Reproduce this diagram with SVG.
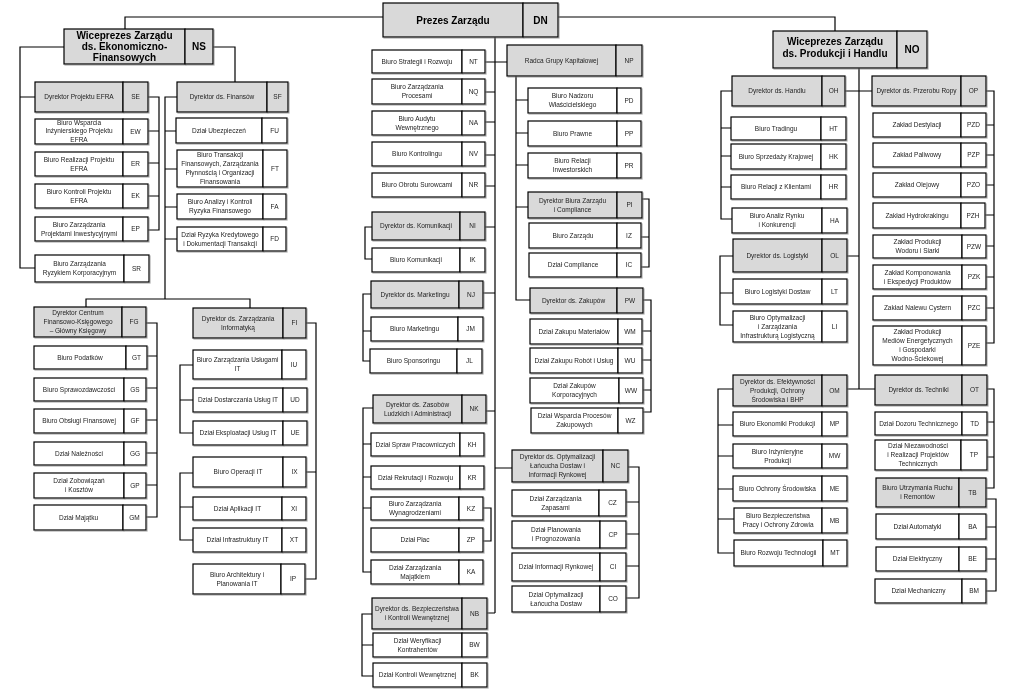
<svg xmlns="http://www.w3.org/2000/svg" width="1024" height="693" viewBox="0 0 1024 693">
<style>
.w{fill:#fff;stroke:#000;stroke-width:1.2}
.g{fill:#d9d9d9;stroke:#000;stroke-width:1.2}
text{font-family:"Liberation Sans",Arial,sans-serif;font-size:6.5px;fill:#222;text-anchor:middle}
.b{font-size:10px;font-weight:bold;fill:#000}
#conn path{fill:none;stroke:#000;stroke-width:1.2}
</style>
<defs><filter id="sh" x="-5%" y="-5%" width="115%" height="130%"><feDropShadow dx="1" dy="1" stdDeviation="0.4" flood-color="#777" flood-opacity="0.6"/></filter></defs>
<rect width="1024" height="693" fill="#fff"/>
<g id="conn">
<path d="M383,17H125V29M558,17H835V31"/>
<path d="M64,47H20V268H35M20,97H35M213,47H235V82"/>
<path d="M148,97H159V230H148M148,131H159M148,163H159M148,196H159"/>
<path d="M177,97H165V299M165,131H176M165,169H177M165,207H177M165,239H177M86,307V299H250V308"/>
<path d="M146,323H157V517H146M146,356H157M146,388H157M146,420H157M146,453H157M146,485H157"/>
<path d="M306,323H316V579H305M306,472H316M193,365H180V433H193M180,400H193M193,473H180V540H193M180,507H193"/>
<path d="M495,37V613M485,62H507M485,92H495M485,122H495M485,155H495M485,186H495M485,227H495M483,293H495M486,411H495M487,613H495M495,468H512"/>
<path d="M372,227H365V259H372M371,294H363V361H370M363,331H371"/>
<path d="M373,408H363V572H371M363,444H371M363,477H371M363,508H371M483,508H491V541H483M372,614H362V676H373M362,645H373"/>
<path d="M516,76V300H530M516,100H528M516,133H528M516,165H528M516,207H528"/>
<path d="M642,199H649V267H641M641,237H649M643,300H651V412H643M642,331H651M642,360H651M643,390H651"/>
<path d="M628,467H639V598H626M626,502H639M626,534H639M626,566H639"/>
<path d="M859,68V389M845,91H872M847,256H859M847,389H875"/>
<path d="M732,91H721V219H732M721,128H731M721,156H731M721,187H731M733,256H720V325H733M720,293H733"/>
<path d="M733,389H718V553H734M718,425H733M718,456H733M718,489H733M718,519H734"/>
<path d="M986,91H994V343H986M986,125H994M986,155H994M986,185H994M985,215H994M986,246H994M986,277H994M986,308H994"/>
<path d="M987,389H994V488H986M987,422H994M987,457H994M986,499H996V591H986M986,527H996M986,559H996"/>
</g>
<g id="nodes" filter="url(#sh)">
<g id="n-DN"><rect class="g" x="383" y="3" width="140" height="34"/><rect class="g" x="523" y="3" width="35" height="34"/><text class="b" x="453" y="23.5">Prezes Zarządu</text><text class="b" x="540.5" y="23.5">DN</text></g>
<g id="n-NS"><rect class="g" x="64" y="29" width="121" height="35"/><rect class="g" x="185" y="29" width="28" height="35"/><text class="b"><tspan x="124.5" y="38.5">Wiceprezes Zarządu</tspan><tspan x="124.5" y="49.5">ds. Ekonomiczno-</tspan><tspan x="124.5" y="60.5">Finansowych</tspan></text><text class="b" x="199" y="50">NS</text></g>
<g id="n-NO"><rect class="g" x="773" y="31" width="124" height="37"/><rect class="g" x="897" y="31" width="30" height="37"/><text class="b"><tspan x="835" y="45">Wiceprezes Zarządu</tspan><tspan x="835" y="56.5">ds. Produkcji i Handlu</tspan></text><text class="b" x="912" y="53">NO</text></g>

<g id="n-SE"><rect class="g" x="35" y="82" width="88" height="30"/><rect class="g" x="123" y="82" width="25" height="30"/><text x="79" y="99.2">Dyrektor Projektu EFRA</text><text x="135.5" y="99.2">SE</text></g>
<g id="n-EW"><rect class="w" x="35" y="119" width="88" height="25"/><rect class="w" x="123" y="119" width="25" height="25"/><text><tspan x="79" y="124.7">Biuro Wsparcia</tspan><tspan x="79" y="133.2">Inżynierskiego Projektu</tspan><tspan x="79" y="141.7">EFRA</tspan></text><text x="135.5" y="133.7">EW</text></g>
<g id="n-ER"><rect class="w" x="35" y="152" width="88" height="24"/><rect class="w" x="123" y="152" width="25" height="24"/><text><tspan x="79" y="161.7">Biuro Realizacji Projektu</tspan><tspan x="79" y="170.7">EFRA</tspan></text><text x="135.5" y="166.2">ER</text></g>
<g id="n-EK"><rect class="w" x="35" y="184" width="88" height="24"/><rect class="w" x="123" y="184" width="25" height="24"/><text><tspan x="79" y="193.7">Biuro Kontroli Projektu</tspan><tspan x="79" y="202.7">EFRA</tspan></text><text x="135.5" y="198.2">EK</text></g>
<g id="n-EP"><rect class="w" x="35" y="217" width="88" height="24"/><rect class="w" x="123" y="217" width="25" height="24"/><text><tspan x="79" y="226.7">Biuro Zarządzania</tspan><tspan x="79" y="235.7">Projektami Inwestycyjnymi</tspan></text><text x="135.5" y="231.2">EP</text></g>
<g id="n-SR"><rect class="w" x="35" y="255" width="89" height="27"/><rect class="w" x="124" y="255" width="25" height="27"/><text><tspan x="79.5" y="266.2">Biuro Zarządzania</tspan><tspan x="79.5" y="275.2">Ryzykiem Korporacyjnym</tspan></text><text x="136.5" y="270.7">SR</text></g>
<g id="n-SF"><rect class="g" x="177" y="82" width="90" height="30"/><rect class="g" x="267" y="82" width="21" height="30"/><text x="222" y="99.2">Dyrektor ds. Finansów</text><text x="277.5" y="99.2">SF</text></g>
<g id="n-FU"><rect class="w" x="176" y="118" width="86" height="25"/><rect class="w" x="262" y="118" width="25" height="25"/><text x="219" y="132.7">Dział Ubezpieczeń</text><text x="274.5" y="132.7">FU</text></g>
<g id="n-FT"><rect class="w" x="177" y="150" width="86" height="37"/><rect class="w" x="263" y="150" width="24" height="37"/><text><tspan x="220" y="157.2">Biuro Transakcji</tspan><tspan x="220" y="166.2">Finansowych, Zarządzania</tspan><tspan x="220" y="175.2">Płynnością i Organizacji</tspan><tspan x="220" y="184.2">Finansowania</tspan></text><text x="275" y="170.7">FT</text></g>
<g id="n-FA"><rect class="w" x="177" y="194" width="86" height="25"/><rect class="w" x="263" y="194" width="23" height="25"/><text><tspan x="220" y="204.2">Biuro Analizy i Kontroli</tspan><tspan x="220" y="213.2">Ryzyka Finansowego</tspan></text><text x="274.5" y="208.7">FA</text></g>
<g id="n-FD"><rect class="w" x="177" y="227" width="86" height="24"/><rect class="w" x="263" y="227" width="23" height="24"/><text><tspan x="220" y="236.7">Dział Ryzyka Kredytowego</tspan><tspan x="220" y="245.7">i Dokumentacji Transakcji</tspan></text><text x="274.5" y="241.2">FD</text></g>
<g id="n-FG"><rect class="g" x="34" y="307" width="88" height="30"/><rect class="g" x="122" y="307" width="24" height="30"/><text><tspan x="78" y="315.2">Dyrektor Centrum</tspan><tspan x="78" y="324.2">Finansowo-Księgowego</tspan><tspan x="78" y="333.2">– Główny Księgowy</tspan></text><text x="134" y="324.2">FG</text></g>
<g id="n-GT"><rect class="w" x="34" y="346" width="92" height="23"/><rect class="w" x="126" y="346" width="21" height="23"/><text x="80" y="359.7">Biuro Podatków</text><text x="136.5" y="359.7">GT</text></g>
<g id="n-GS"><rect class="w" x="34" y="378" width="90" height="23"/><rect class="w" x="124" y="378" width="22" height="23"/><text x="79" y="391.7">Biuro Sprawozdawczości</text><text x="135" y="391.7">GS</text></g>
<g id="n-GF"><rect class="w" x="34" y="409" width="90" height="24"/><rect class="w" x="124" y="409" width="22" height="24"/><text x="79" y="423.2">Biuro Obsługi Finansowej</text><text x="135" y="423.2">GF</text></g>
<g id="n-GG"><rect class="w" x="34" y="442" width="90" height="23"/><rect class="w" x="124" y="442" width="22" height="23"/><text x="79" y="455.7">Dział Należności</text><text x="135" y="455.7">GG</text></g>
<g id="n-GP"><rect class="w" x="34" y="473" width="90" height="25"/><rect class="w" x="124" y="473" width="22" height="25"/><text><tspan x="79" y="483.2">Dział Zobowiązań</tspan><tspan x="79" y="492.2">i Kosztów</tspan></text><text x="135" y="487.7">GP</text></g>
<g id="n-GM"><rect class="w" x="34" y="505" width="89" height="25"/><rect class="w" x="123" y="505" width="23" height="25"/><text x="78.5" y="519.7">Dział Majątku</text><text x="134.5" y="519.7">GM</text></g>
<g id="n-FI"><rect class="g" x="193" y="308" width="90" height="30"/><rect class="g" x="283" y="308" width="23" height="30"/><text><tspan x="238" y="320.7">Dyrektor ds. Zarządzania</tspan><tspan x="238" y="329.7">Informatyką</tspan></text><text x="294.5" y="325.2">FI</text></g>
<g id="n-IU"><rect class="w" x="193" y="350" width="89" height="29"/><rect class="w" x="282" y="350" width="24" height="29"/><text><tspan x="237.5" y="362.2">Biuro Zarządzania Usługami</tspan><tspan x="237.5" y="371.2">IT</tspan></text><text x="294" y="366.7">IU</text></g>
<g id="n-UD"><rect class="w" x="193" y="388" width="90" height="24"/><rect class="w" x="283" y="388" width="24" height="24"/><text x="238" y="402.2">Dział Dostarczania Usług IT</text><text x="295" y="402.2">UD</text></g>
<g id="n-UE"><rect class="w" x="193" y="421" width="90" height="24"/><rect class="w" x="283" y="421" width="24" height="24"/><text x="238" y="435.2">Dział Eksploatacji Usług IT</text><text x="295" y="435.2">UE</text></g>
<g id="n-IX"><rect class="w" x="193" y="457" width="90" height="30"/><rect class="w" x="283" y="457" width="23" height="30"/><text x="238" y="474.2">Biuro Operacji IT</text><text x="294.5" y="474.2">IX</text></g>
<g id="n-XI"><rect class="w" x="193" y="497" width="89" height="23"/><rect class="w" x="282" y="497" width="24" height="23"/><text x="237.5" y="510.7">Dział Aplikacji IT</text><text x="294" y="510.7">XI</text></g>
<g id="n-XT"><rect class="w" x="193" y="528" width="89" height="24"/><rect class="w" x="282" y="528" width="24" height="24"/><text x="237.5" y="542.2">Dział Infrastruktury  IT</text><text x="294" y="542.2">XT</text></g>
<g id="n-IP"><rect class="w" x="193" y="564" width="88" height="30"/><rect class="w" x="281" y="564" width="24" height="30"/><text><tspan x="237" y="576.7">Biuro Architektury i</tspan><tspan x="237" y="585.7">Planowania IT</tspan></text><text x="293" y="581.2">IP</text></g>

<g id="n-NT"><rect class="w" x="372" y="50" width="90" height="23"/><rect class="w" x="462" y="50" width="23" height="23"/><text x="417" y="63.7">Biuro Strategii i Rozwoju</text><text x="473.5" y="63.7">NT</text></g>
<g id="n-NQ"><rect class="w" x="372" y="79" width="90" height="25"/><rect class="w" x="462" y="79" width="23" height="25"/><text><tspan x="417" y="89.2">Biuro Zarządzania</tspan><tspan x="417" y="98.2">Procesami</tspan></text><text x="473.5" y="93.7">NQ</text></g>
<g id="n-NA"><rect class="w" x="372" y="111" width="90" height="24"/><rect class="w" x="462" y="111" width="23" height="24"/><text><tspan x="417" y="120.7">Biuro Audytu</tspan><tspan x="417" y="129.7">Wewnętrznego</tspan></text><text x="473.5" y="125.2">NA</text></g>
<g id="n-NV"><rect class="w" x="372" y="142" width="90" height="24"/><rect class="w" x="462" y="142" width="23" height="24"/><text x="417" y="156.2">Biuro Kontrolingu</text><text x="473.5" y="156.2">NV</text></g>
<g id="n-NR"><rect class="w" x="372" y="173" width="90" height="24"/><rect class="w" x="462" y="173" width="23" height="24"/><text x="417" y="187.2">Biuro Obrotu Surowcami</text><text x="473.5" y="187.2">NR</text></g>
<g id="n-NI"><rect class="g" x="372" y="212" width="88" height="28"/><rect class="g" x="460" y="212" width="25" height="28"/><text x="416" y="228.2">Dyrektor ds. Komunikacji</text><text x="472.5" y="228.2">NI</text></g>
<g id="n-IK"><rect class="w" x="372" y="248" width="88" height="24"/><rect class="w" x="460" y="248" width="25" height="24"/><text x="416" y="262.2">Biuro Komunikacji</text><text x="472.5" y="262.2">IK</text></g>
<g id="n-NJ"><rect class="g" x="371" y="281" width="88" height="27"/><rect class="g" x="459" y="281" width="24" height="27"/><text x="415" y="296.7">Dyrektor ds. Marketingu</text><text x="471" y="296.7">NJ</text></g>
<g id="n-JM"><rect class="w" x="371" y="317" width="87" height="24"/><rect class="w" x="458" y="317" width="25" height="24"/><text x="414.5" y="331.2">Biuro Marketingu</text><text x="470.5" y="331.2">JM</text></g>
<g id="n-JL"><rect class="w" x="370" y="349" width="87" height="24"/><rect class="w" x="457" y="349" width="25" height="24"/><text x="413.5" y="363.2">Biuro Sponsoringu</text><text x="469.5" y="363.2">JL</text></g>
<g id="n-NK"><rect class="g" x="373" y="395" width="89" height="28"/><rect class="g" x="462" y="395" width="24" height="28"/><text><tspan x="417.5" y="406.7">Dyrektor ds. Zasobów</tspan><tspan x="417.5" y="415.7">Ludzkich i Administracji</tspan></text><text x="474" y="411.2">NK</text></g>
<g id="n-KH"><rect class="w" x="371" y="433" width="89" height="23"/><rect class="w" x="460" y="433" width="24" height="23"/><text x="415.5" y="446.7">Dział Spraw Pracowniczych</text><text x="472" y="446.7">KH</text></g>
<g id="n-KR"><rect class="w" x="371" y="466" width="89" height="23"/><rect class="w" x="460" y="466" width="24" height="23"/><text x="415.5" y="479.7">Dział Rekrutacji i Rozwoju</text><text x="472" y="479.7">KR</text></g>
<g id="n-KZ"><rect class="w" x="371" y="497" width="88" height="23"/><rect class="w" x="459" y="497" width="24" height="23"/><text><tspan x="415" y="506.2">Biuro Zarządzania</tspan><tspan x="415" y="515.2">Wynagrodzeniami</tspan></text><text x="471" y="510.7">KZ</text></g>
<g id="n-ZP"><rect class="w" x="371" y="528" width="88" height="24"/><rect class="w" x="459" y="528" width="24" height="24"/><text x="415" y="542.2">Dział Płac</text><text x="471" y="542.2">ZP</text></g>
<g id="n-KA"><rect class="w" x="371" y="560" width="88" height="24"/><rect class="w" x="459" y="560" width="24" height="24"/><text><tspan x="415" y="569.7">Dział Zarządzania</tspan><tspan x="415" y="578.7">Majątkiem</tspan></text><text x="471" y="574.2">KA</text></g>
<g id="n-NB"><rect class="g" x="372" y="598" width="90" height="31"/><rect class="g" x="462" y="598" width="25" height="31"/><text><tspan x="417" y="611.2">Dyrektor ds. Bezpieczeństwa</tspan><tspan x="417" y="620.2">i Kontroli Wewnętrznej</tspan></text><text x="474.5" y="615.7">NB</text></g>
<g id="n-BW"><rect class="w" x="373" y="633" width="89" height="24"/><rect class="w" x="462" y="633" width="25" height="24"/><text><tspan x="417.5" y="642.7">Dział Weryfikacji</tspan><tspan x="417.5" y="651.7">Kontrahentów</tspan></text><text x="474.5" y="647.2">BW</text></g>
<g id="n-BK"><rect class="w" x="373" y="663" width="89" height="24"/><rect class="w" x="462" y="663" width="25" height="24"/><text x="417.5" y="677.2">Dział Kontroli Wewnętrznej</text><text x="474.5" y="677.2">BK</text></g>

<g id="n-NP"><rect class="g" x="507" y="45" width="109" height="31"/><rect class="g" x="616" y="45" width="26" height="31"/><text x="561.5" y="62.7">Radca  Grupy Kapitałowej</text><text x="629" y="62.7">NP</text></g>
<g id="n-PD"><rect class="w" x="528" y="88" width="89" height="25"/><rect class="w" x="617" y="88" width="24" height="25"/><text><tspan x="572.5" y="98.2">Biuro Nadzoru</tspan><tspan x="572.5" y="107.2">Właścicielskiego</tspan></text><text x="629" y="102.7">PD</text></g>
<g id="n-PP"><rect class="w" x="528" y="121" width="89" height="25"/><rect class="w" x="617" y="121" width="24" height="25"/><text x="572.5" y="135.7">Biuro Prawne</text><text x="629" y="135.7">PP</text></g>
<g id="n-PR"><rect class="w" x="528" y="153" width="89" height="25"/><rect class="w" x="617" y="153" width="24" height="25"/><text><tspan x="572.5" y="163.2">Biuro Relacji</tspan><tspan x="572.5" y="172.2">Inwestorskich</tspan></text><text x="629" y="167.7">PR</text></g>
<g id="n-PI"><rect class="g" x="528" y="192" width="89" height="26"/><rect class="g" x="617" y="192" width="25" height="26"/><text><tspan x="572.5" y="202.7">Dyrektor Biura Zarządu</tspan><tspan x="572.5" y="211.7">i Compliance</tspan></text><text x="629.5" y="207.2">PI</text></g>
<g id="n-IZ"><rect class="w" x="529" y="223" width="88" height="25"/><rect class="w" x="617" y="223" width="24" height="25"/><text x="573" y="237.7">Biuro Zarządu</text><text x="629" y="237.7">IZ</text></g>
<g id="n-IC"><rect class="w" x="529" y="253" width="88" height="24"/><rect class="w" x="617" y="253" width="24" height="24"/><text x="573" y="267.2">Dział Compliance</text><text x="629" y="267.2">IC</text></g>
<g id="n-PW"><rect class="g" x="530" y="288" width="87" height="25"/><rect class="g" x="617" y="288" width="26" height="25"/><text x="573.5" y="302.7">Dyrektor ds. Zakupów</text><text x="630" y="302.7">PW</text></g>
<g id="n-WM"><rect class="w" x="530" y="319" width="88" height="25"/><rect class="w" x="618" y="319" width="24" height="25"/><text x="574" y="333.7">Dział Zakupu Materiałów</text><text x="630" y="333.7">WM</text></g>
<g id="n-WU"><rect class="w" x="530" y="348" width="88" height="25"/><rect class="w" x="618" y="348" width="24" height="25"/><text x="574" y="362.7">Dział Zakupu Robót i Usług</text><text x="630" y="362.7">WU</text></g>
<g id="n-WW"><rect class="w" x="530" y="378" width="89" height="25"/><rect class="w" x="619" y="378" width="24" height="25"/><text><tspan x="574.5" y="388.2">Dział Zakupów</tspan><tspan x="574.5" y="397.2">Korporacyjnych</tspan></text><text x="631" y="392.7">WW</text></g>
<g id="n-WZ"><rect class="w" x="531" y="408" width="87" height="25"/><rect class="w" x="618" y="408" width="25" height="25"/><text><tspan x="574.5" y="418.2">Dział Wsparcia Procesów</tspan><tspan x="574.5" y="427.2">Zakupowych</tspan></text><text x="630.5" y="422.7">WZ</text></g>
<g id="n-NC"><rect class="g" x="512" y="450" width="91" height="32"/><rect class="g" x="603" y="450" width="25" height="32"/><text><tspan x="557.5" y="459.2">Dyrektor ds. Optymalizacji</tspan><tspan x="557.5" y="468.2">Łańcucha Dostaw i</tspan><tspan x="557.5" y="477.2">Informacji Rynkowej</tspan></text><text x="615.5" y="468.2">NC</text></g>
<g id="n-CZ"><rect class="w" x="512" y="490" width="87" height="26"/><rect class="w" x="599" y="490" width="27" height="26"/><text><tspan x="555.5" y="500.7">Dział Zarządzania</tspan><tspan x="555.5" y="509.7">Zapasami</tspan></text><text x="612.5" y="505.2">CZ</text></g>
<g id="n-CP"><rect class="w" x="512" y="521" width="88" height="27"/><rect class="w" x="600" y="521" width="26" height="27"/><text><tspan x="556" y="532.2">Dział Planowania</tspan><tspan x="556" y="541.2">i Prognozowania</tspan></text><text x="613" y="536.7">CP</text></g>
<g id="n-CI"><rect class="w" x="512" y="553" width="88" height="28"/><rect class="w" x="600" y="553" width="26" height="28"/><text x="556" y="569.2">Dział Informacji Rynkowej</text><text x="613" y="569.2">CI</text></g>
<g id="n-CO"><rect class="w" x="512" y="586" width="88" height="26"/><rect class="w" x="600" y="586" width="26" height="26"/><text><tspan x="556" y="596.7">Dział Optymalizacji</tspan><tspan x="556" y="605.7">Łańcucha Dostaw</tspan></text><text x="613" y="601.2">CO</text></g>

<g id="n-OH"><rect class="g" x="732" y="76" width="90" height="30"/><rect class="g" x="822" y="76" width="23" height="30"/><text x="777" y="93.2">Dyrektor ds. Handlu</text><text x="833.5" y="93.2">OH</text></g>
<g id="n-HT"><rect class="w" x="731" y="117" width="90" height="23"/><rect class="w" x="821" y="117" width="25" height="23"/><text x="776" y="130.7">Biuro Tradingu</text><text x="833.5" y="130.7">HT</text></g>
<g id="n-HK"><rect class="w" x="731" y="144" width="90" height="25"/><rect class="w" x="821" y="144" width="25" height="25"/><text x="776" y="158.7">Biuro Sprzedaży Krajowej</text><text x="833.5" y="158.7">HK</text></g>
<g id="n-HR"><rect class="w" x="731" y="175" width="90" height="24"/><rect class="w" x="821" y="175" width="25" height="24"/><text x="776" y="189.2">Biuro Relacji z Klientami</text><text x="833.5" y="189.2">HR</text></g>
<g id="n-HA"><rect class="w" x="732" y="208" width="90" height="25"/><rect class="w" x="822" y="208" width="25" height="25"/><text><tspan x="777" y="218.2">Biuro Analiz Rynku</tspan><tspan x="777" y="227.2">i Konkurencji</tspan></text><text x="834.5" y="222.7">HA</text></g>
<g id="n-OL"><rect class="g" x="733" y="239" width="89" height="33"/><rect class="g" x="822" y="239" width="25" height="33"/><text x="777.5" y="257.7">Dyrektor ds. Logistyki</text><text x="834.5" y="257.7">OL</text></g>
<g id="n-LT"><rect class="w" x="733" y="279" width="89" height="25"/><rect class="w" x="822" y="279" width="25" height="25"/><text x="777.5" y="293.7">Biuro Logistyki Dostaw</text><text x="834.5" y="293.7">LT</text></g>
<g id="n-LI"><rect class="w" x="733" y="311" width="89" height="31"/><rect class="w" x="822" y="311" width="25" height="31"/><text><tspan x="777.5" y="319.7">Biuro Optymalizacji</tspan><tspan x="777.5" y="328.7">i Zarządzania</tspan><tspan x="777.5" y="337.7">Infrastrukturą Logistyczną</tspan></text><text x="834.5" y="328.7">LI</text></g>
<g id="n-OM"><rect class="g" x="733" y="375" width="89" height="31"/><rect class="g" x="822" y="375" width="25" height="31"/><text><tspan x="777.5" y="383.7">Dyrektor ds. Efektywności</tspan><tspan x="777.5" y="392.7">Produkcji, Ochrony</tspan><tspan x="777.5" y="401.7">Środowiska i BHP</tspan></text><text x="834.5" y="392.7">OM</text></g>
<g id="n-MP"><rect class="w" x="733" y="412" width="89" height="24"/><rect class="w" x="822" y="412" width="25" height="24"/><text x="777.5" y="426.2">Biuro Ekonomiki Produkcji</text><text x="834.5" y="426.2">MP</text></g>
<g id="n-MW"><rect class="w" x="733" y="444" width="89" height="24"/><rect class="w" x="822" y="444" width="25" height="24"/><text><tspan x="777.5" y="453.7">Biuro Inżynieryjne</tspan><tspan x="777.5" y="462.7">Produkcji</tspan></text><text x="834.5" y="458.2">MW</text></g>
<g id="n-ME"><rect class="w" x="733" y="476" width="89" height="25"/><rect class="w" x="822" y="476" width="25" height="25"/><text x="777.5" y="490.7">Biuro Ochrony Środowiska</text><text x="834.5" y="490.7">ME</text></g>
<g id="n-MB"><rect class="w" x="734" y="508" width="88" height="25"/><rect class="w" x="822" y="508" width="25" height="25"/><text><tspan x="778" y="518.2">Biuro Bezpieczeństwa</tspan><tspan x="778" y="527.2">Pracy i Ochrony Zdrowia</tspan></text><text x="834.5" y="522.7">MB</text></g>
<g id="n-MT"><rect class="w" x="734" y="540" width="89" height="26"/><rect class="w" x="823" y="540" width="24" height="26"/><text x="778.5" y="555.2">Biuro Rozwoju Technologii</text><text x="835" y="555.2">MT</text></g>
<g id="n-OP"><rect class="g" x="872" y="76" width="89" height="30"/><rect class="g" x="961" y="76" width="25" height="30"/><text x="916.5" y="93.2">Dyrektor ds. Przerobu Ropy</text><text x="973.5" y="93.2">OP</text></g>
<g id="n-PZD"><rect class="w" x="873" y="113" width="88" height="24"/><rect class="w" x="961" y="113" width="25" height="24"/><text x="917" y="127.2">Zakład Destylacji</text><text x="973.5" y="127.2">PZD</text></g>
<g id="n-PZP"><rect class="w" x="873" y="143" width="88" height="24"/><rect class="w" x="961" y="143" width="25" height="24"/><text x="917" y="157.2">Zakład Paliwowy</text><text x="973.5" y="157.2">PZP</text></g>
<g id="n-PZO"><rect class="w" x="873" y="173" width="88" height="24"/><rect class="w" x="961" y="173" width="25" height="24"/><text x="917" y="187.2">Zakład Olejowy</text><text x="973.5" y="187.2">PZO</text></g>
<g id="n-PZH"><rect class="w" x="873" y="203" width="88" height="25"/><rect class="w" x="961" y="203" width="24" height="25"/><text x="917" y="217.7">Zakład Hydrokrakingu</text><text x="973" y="217.7">PZH</text></g>
<g id="n-PZW"><rect class="w" x="873" y="235" width="89" height="23"/><rect class="w" x="962" y="235" width="24" height="23"/><text><tspan x="917.5" y="244.2">Zakład Produkcji</tspan><tspan x="917.5" y="253.2">Wodoru i Siarki</tspan></text><text x="974" y="248.7">PZW</text></g>
<g id="n-PZK"><rect class="w" x="873" y="265" width="89" height="24"/><rect class="w" x="962" y="265" width="24" height="24"/><text><tspan x="917.5" y="274.7">Zakład Komponowania</tspan><tspan x="917.5" y="283.7">i Ekspedycji Produktów</tspan></text><text x="974" y="279.2">PZK</text></g>
<g id="n-PZC"><rect class="w" x="873" y="296" width="89" height="24"/><rect class="w" x="962" y="296" width="24" height="24"/><text x="917.5" y="310.2">Zakład Nalewu Cystern</text><text x="974" y="310.2">PZC</text></g>
<g id="n-PZE"><rect class="w" x="873" y="326" width="89" height="39"/><rect class="w" x="962" y="326" width="24" height="39"/><text><tspan x="917.5" y="334.2">Zakład Produkcji</tspan><tspan x="917.5" y="343.2">Mediów Energetycznych</tspan><tspan x="917.5" y="352.2">i Gospodarki</tspan><tspan x="917.5" y="361.2">Wodno-Ściekowej</tspan></text><text x="974" y="347.7">PZE</text></g>
<g id="n-OT"><rect class="g" x="875" y="375" width="87" height="30"/><rect class="g" x="962" y="375" width="25" height="30"/><text x="918.5" y="392.2">Dyrektor ds. Techniki</text><text x="974.5" y="392.2">OT</text></g>
<g id="n-TD"><rect class="w" x="875" y="412" width="87" height="23"/><rect class="w" x="962" y="412" width="25" height="23"/><text x="918.5" y="425.7">Dział Dozoru Technicznego</text><text x="974.5" y="425.7">TD</text></g>
<g id="n-TP"><rect class="w" x="875" y="440" width="86" height="30"/><rect class="w" x="961" y="440" width="26" height="30"/><text><tspan x="918" y="448.2">Dział Niezawodności</tspan><tspan x="918" y="457.2">i Realizacji Projektów</tspan><tspan x="918" y="466.2">Technicznych</tspan></text><text x="974" y="457.2">TP</text></g>
<g id="n-TB"><rect class="g" x="876" y="478" width="83" height="29"/><rect class="g" x="959" y="478" width="27" height="29"/><text><tspan x="917.5" y="490.2">Biuro Utrzymania Ruchu</tspan><tspan x="917.5" y="499.2">i Remontów</tspan></text><text x="972.5" y="494.7">TB</text></g>
<g id="n-BA"><rect class="w" x="876" y="514" width="83" height="25"/><rect class="w" x="959" y="514" width="27" height="25"/><text x="917.5" y="528.7">Dział  Automatyki</text><text x="972.5" y="528.7">BA</text></g>
<g id="n-BE"><rect class="w" x="876" y="547" width="83" height="24"/><rect class="w" x="959" y="547" width="27" height="24"/><text x="917.5" y="561.2">Dział Elektryczny</text><text x="972.5" y="561.2">BE</text></g>
<g id="n-BM"><rect class="w" x="875" y="579" width="87" height="24"/><rect class="w" x="962" y="579" width="24" height="24"/><text x="918.5" y="593.2">Dział Mechaniczny</text><text x="974" y="593.2">BM</text></g>
</g>
</svg>
